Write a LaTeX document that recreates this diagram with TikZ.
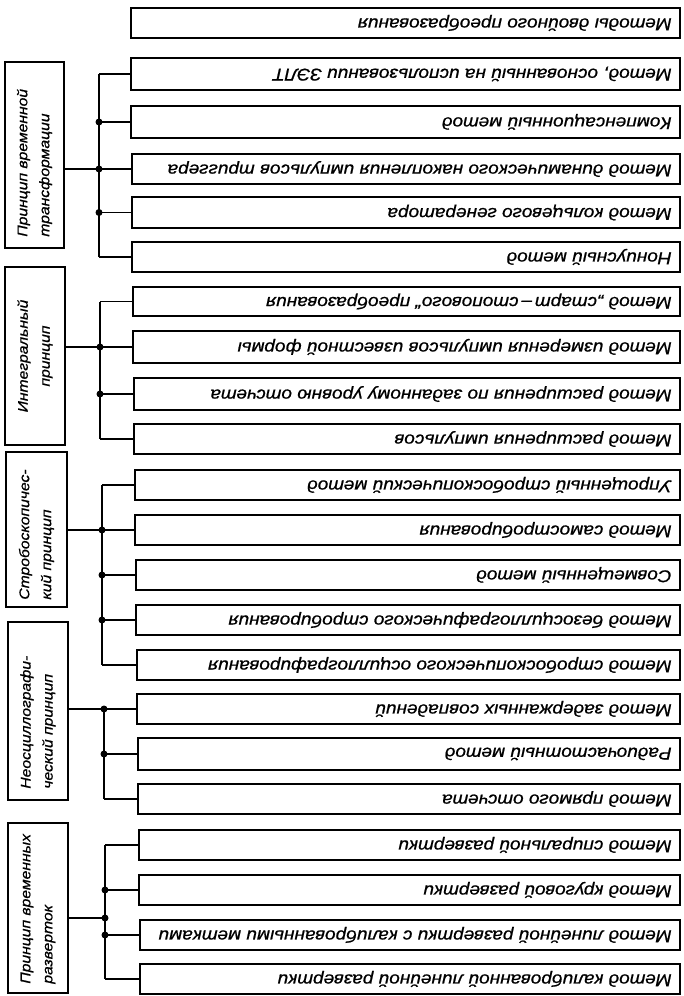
\documentclass[tikz,border=0pt]{standalone}
\usepackage{fontspec}
\newfontfamily\gost[FakeStretch=1.12,FakeBold=0.8]{Liberation Sans}
\begin{document}
\begin{tikzpicture}[x=1pt,y=-1pt,
  rbox/.style={draw, line width=1.7pt, inner sep=0pt},
  rtxt/.style={rotate=180, anchor=west, inner sep=0pt, font=\gost\itshape\fontsize{17}{19}\selectfont},
  ltxt/.style={rotate=90, inner sep=0pt, font=\gost\itshape\fontsize{14}{22}\selectfont},
  bus/.style={line width=1.3pt},
  jdot/.style={circle, fill, inner sep=0pt, minimum size=7pt}]
\useasboundingbox (0,0) rectangle (684,996);
\newcommand\rb[5]{%
  \node[rbox, minimum width={(680-#2)*1pt}, minimum height={(#4-#3)*1pt}] (#1) at ({(#2+680)/2},{(#3+#4)/2}) {};
  \node[rtxt] (#1t) at ([xshift=-9pt]#1.east) {#5};}
\newcommand\lb[5]{% name, xl, xr, yt, yb
  \node[rbox, minimum width={(#3-#2)*1pt}, minimum height={(#5-#4)*1pt}] (#1) at ({(#2+#3)/2},{(#4+#5)/2}) {};}
% right boxes
\rb{r1}{131}{8}{38}{Методы двойного преобразования}
\rb{r2}{131}{58}{90}{Метод, основанный на использовании ЗЭЛТ}
\rb{r3}{131}{106}{138}{Компенсационный метод}
\rb{r4}{132}{154}{184}{Метод динамического накопления импульсов триггера}
\rb{r5}{132}{197}{228}{Метод кольцевого генератора}
\rb{r6}{132}{242}{272}{Нониусный метод}
\rb{r7}{133}{287}{316}{Метод „старт\,–\,стопового“ преобразования}
\rb{r8}{133}{331}{363}{Метод измерения импульсов известной формы}
\rb{r9}{134}{378}{410}{Метод расширения по заданному уровню отсчета}
\rb{r10}{134}{424}{454}{Метод расширения импульсов}
\rb{r11}{135}{470}{500}{Упрощенный стробоскопический метод}
\rb{r12}{135}{515}{545}{Метод самостробирования}
\rb{r13}{136}{560}{590}{Совмещенный метод}
\rb{r14}{136}{605}{635}{Метод безосциллографического стробирования}
\rb{r15}{137}{650}{680}{Метод стробоскопического осциллографирования}
\rb{r16}{137}{694}{724}{Метод задержанных совпадений}
\rb{r17}{138}{738}{770}{Радиочастотный метод}
\rb{r18}{138}{784}{814}{Метод прямого отсчета}
\rb{r19}{139}{830}{860}{Метод спиральной развертки}
\rb{r20}{139}{875}{905}{Метод круговой развертки}
\rb{r21}{140}{920}{950}{Метод линейной развертки с калиброванными метками}
\rb{r22}{140}{964}{994}{Метод калиброванной линейной развертки}
% left boxes
\lb{l1}{5}{64}{62}{248}
\lb{l2}{5}{65}{267}{445}
\lb{l3}{6}{67}{452}{607}
\lb{l4}{8}{68}{622}{800}
\lb{l5}{8}{68}{823}{993}
\node[ltxt, anchor=west, align=left] (l1t) at ([yshift=12pt]l1.south) {Принцип временной\\трансформации};
\node[ltxt, align=center] (l2t) at (l2) {Интегральный\\принцип};
\node[ltxt, anchor=west, align=left] (l3t) at ([yshift=8pt]l3.south) {Стробоскопичес-\\кий принцип};
\node[ltxt, anchor=west, align=left] (l4t) at ([yshift=12pt]l4.south) {Неосциллографи-\\ческий принцип};
\node[ltxt, anchor=west, align=left] (l5t) at ([yshift=10pt]l5.south) {Принцип временных\\разверток};
% bus coordinates
\coordinate (bA) at (99,0);
\coordinate (bB) at (100,0);
\coordinate (bC) at (102,0);
\coordinate (bD) at (104,0);
\coordinate (bE) at (105,0);
\coordinate (eJ) at (105,918);
% group A
\draw[bus] (bA |- r2) -- (bA |- r6);
\foreach \n in {r2,r3,r4,r5,r6} \draw[bus] (bA |- \n) -- (\n.west);
\draw[bus] (l1.east |- r4) -- (bA |- r4);
\foreach \n in {r3,r4,r5} \node[jdot] at (bA |- \n) {};
% group B
\draw[bus] (bB |- r7) -- (bB |- r10);
\foreach \n in {r7,r8,r9,r10} \draw[bus] (bB |- \n) -- (\n.west);
\draw[bus] (l2.east |- r8) -- (bB |- r8);
\foreach \n in {r8,r9} \node[jdot] at (bB |- \n) {};
% group C
\draw[bus] (bC |- r11) -- (bC |- r15);
\foreach \n in {r11,r12,r13,r14,r15} \draw[bus] (bC |- \n) -- (\n.west);
\draw[bus] (l3.east |- r12) -- (bC |- r12);
\foreach \n in {r12,r13,r14} \node[jdot] at (bC |- \n) {};
% group D
\draw[bus] (bD |- r16) -- (bD |- r18);
\foreach \n in {r16,r17,r18} \draw[bus] (bD |- \n) -- (\n.west);
\draw[bus] (l4.east |- r16) -- (bD |- r16);
\foreach \n in {r16,r17} \node[jdot] at (bD |- \n) {};
% group E
\draw[bus] (bE |- r19) -- (bE |- r22);
\foreach \n in {r19,r20,r21,r22} \draw[bus] (bE |- \n) -- (\n.west);
\draw[bus] (l5.east |- eJ) -- (eJ);
\foreach \n in {r20,r21} \node[jdot] at (bE |- \n) {};
\node[jdot] at (eJ) {};
\end{tikzpicture}
\end{document}
